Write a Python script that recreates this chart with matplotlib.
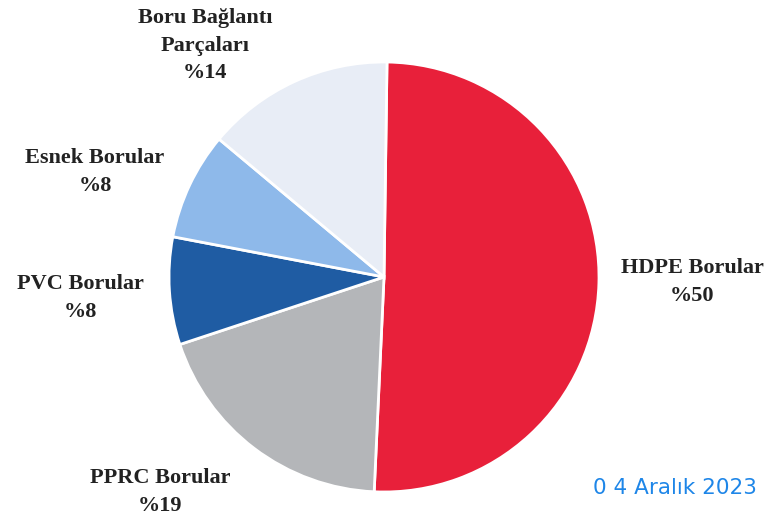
import matplotlib.pyplot as plt

# slice data, drawn clockwise starting at the top
categories = ["HDPE Borular", "PPRC Borular", "PVC Borular", "Esnek Borular", "Boru Bağlantı\nParçaları"]
shares = [50, 19, 8, 8, 14]
colors = ["#E8203A", "#B4B6B9", "#1F5CA3", "#8EB9EA", "#E8EDF6"]

# label anchor points in pixels (x, y from top)
label_pos = [(692, 282), (160, 492), (80, 298), (95, 172), (205, 46)]

W, H = 774, 523
fig = plt.figure(figsize=(W / 100, H / 100), dpi=100)
ax = fig.add_axes([0, 0, 1, 1])
ax.set_xlim(0, W)
ax.set_ylim(0, H)
ax.set_aspect("equal")
ax.set_axis_off()

ax.pie(shares, colors=colors, startangle=89.2, counterclock=False,
       center=(384, H - 277), radius=215,
       wedgeprops=dict(edgecolor="white", linewidth=2))

# restore limits since pie resets them
ax.set_xlim(0, W)
ax.set_ylim(0, H)

for name, val, (x, y) in zip(categories, shares, label_pos):
    ax.text(x, H - y, f"{name}\n%{val}", ha="center", va="center",
            fontsize=16, fontweight="bold", family="Liberation Serif",
            color="#222222", linespacing=1.5)

# date stamp at bottom right
ax.text(675, H - 488, "0 4 Aralık 2023", ha="center", va="center",
        fontsize=15.5, color="#1E86E8", family="DejaVu Sans")

fig.savefig("out.png", dpi=100)
